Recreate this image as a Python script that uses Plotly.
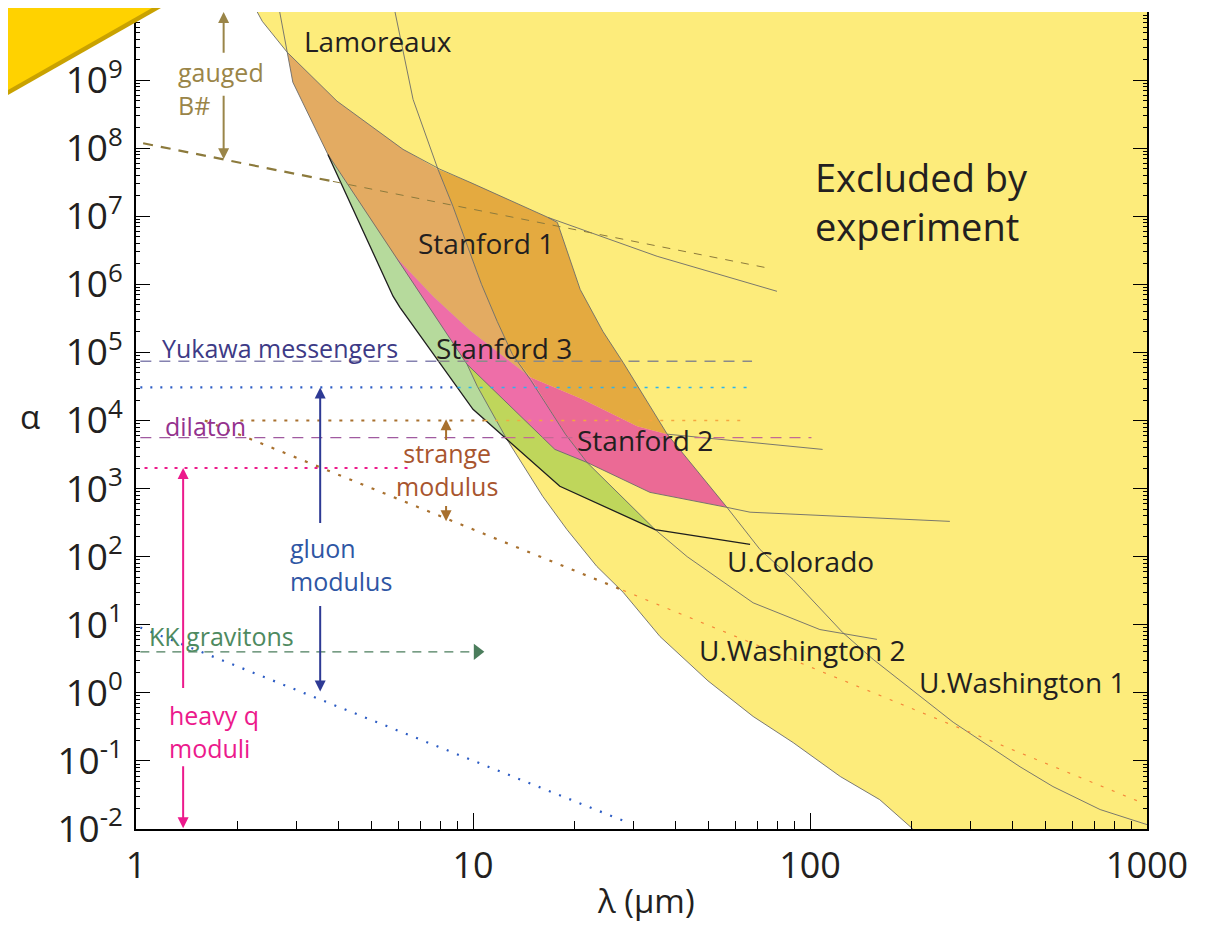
import numpy as np
import plotly.graph_objects as go

# ---- experimental regions (lambda in um, alpha) ----
excl_lam = [2.29, 1000, 1000, 202, 161, 123, 89.1, 67.8, 49.8, 35.9, 27.9, 23.3, 19.0, 16.1,
            12.6, 10.3, 9.6, 6.96, 4.62, 3.28, 2.81, 2.37]
excl_alpha = [1e10, 1e10, 0.01, 0.01, 0.027, 0.059, 0.186, 0.45, 1.5, 6.7, 30, 72, 250, 770,
              5.3e3, 3.17e4, 6.7e4, 6.0e5, 1.77e7, 3.7e8, 2.56e9, 7.3e9]

green_lam = [3.71, 5.79, 6.07, 7.20, 8.66, 10.0, 12.6, 18.1, 34.7, 27.3, 21.8, 18.8, 16.7,
             14.8, 13.1, 11.8, 10.6, 9.66, 8.72, 7.87]
green_alpha = [8.1e7, 6.7e5, 4.6e5, 1.40e5, 4.0e4, 1.46e4, 5.3e3, 1.08e3, 250, 820, 2.42e3,
               6.3e3, 1.61e4, 4.0e4, 9.3e4, 2.85e5, 1.0e6, 3.49e6, 1.40e7, 4.9e7]

ygreen_lam = [9.6, 13.8, 17.5, 21.8, 27.3, 34.7, 18.1, 12.6, 10.3]
ygreen_alpha = [6.7e4, 2.67e4, 3.76e3, 2.42e3, 820, 250, 1.08e3, 5.3e3, 3.17e4]

lorange_lam = [2.81, 3.95, 6.20, 7.87, 8.72, 9.66, 10.6, 11.8, 13.1, 14.8, 9.8, 7.61, 5.87, 3.71, 2.92]
lorange_alpha = [2.56e9, 4.9e8, 9.6e7, 4.9e7, 1.40e7, 3.49e6, 1.0e6, 2.85e5, 9.3e4, 4.3e4,
                 2.1e5, 6.7e5, 2.58e6, 8.1e7, 9.3e8]

dorange_lam = [7.87, 9.8, 16.7, 17.8, 20.8, 24.3, 27.9, 37.7, 30.7, 21.2, 14.8, 13.1, 11.8,
               10.6, 9.66, 8.72]
dorange_alpha = [4.9e7, 3.15e7, 9.6e6, 8.1e6, 8.4e5, 2.03e5, 7.1e4, 6.3e3, 8.2e3, 2.04e4,
                 4.3e4, 9.3e4, 2.85e5, 1.0e6, 3.49e6, 1.40e7]

lpink_lam = [5.87, 7.61, 9.8, 14.8, 16.7, 18.8, 21.8, 17.5, 9.6]
lpink_alpha = [2.58e6, 6.7e5, 2.1e5, 4.3e4, 1.61e4, 6.3e3, 2.42e3, 3.76e3, 6.7e4]

dpink_lam = [14.8, 21.2, 30.7, 37.7, 56.7, 33.5, 21.8, 18.8, 16.7]
dpink_alpha = [4.3e4, 2.04e4, 8.2e3, 6.3e3, 530, 880, 2.42e3, 6.3e3, 1.61e4]

# ---- experimental limit curves ----
lamo_lam = [2.29, 2.37, 2.81, 3.95, 6.20, 7.98, 9.8, 16.7, 35.2, 79.8]
lamo_alpha = [1e10, 7.3e9, 2.56e9, 4.9e8, 9.6e7, 4.9e7, 3.15e7, 9.6e6, 2.58e6, 7.9e5]

s3_lam = [2.67, 2.81, 2.92, 3.71, 5.87, 9.6, 10.3, 12.6, 16.1, 19.0, 23.3, 27.9, 35.9, 49.8,
          67.8, 89.1, 123, 161, 202]
s3_alpha = [1e10, 2.56e9, 9.3e8, 8.1e7, 2.58e6, 6.7e4, 3.17e4, 5.3e3, 770, 250, 72, 30, 6.7,
            1.5, 0.45, 0.186, 0.059, 0.027, 0.01]

uw2_lam = [5.87, 6.64, 7.87, 8.72, 9.66, 10.6, 11.8, 13.1, 14.8, 16.7, 18.8, 21.8, 27.3, 34.7,
           43.2, 67.8, 107, 158]
uw2_alpha = [1e10, 5.2e8, 4.9e7, 1.40e7, 3.49e6, 1.0e6, 2.85e5, 9.3e4, 4.0e4, 1.61e4, 6.3e3,
             2.42e3, 820, 250, 100, 21, 8.5, 6.1]

uw1_lam = [16.7, 17.8, 20.8, 24.3, 27.9, 37.7, 56.7, 71.1, 89.1, 125, 154, 212, 266, 420, 526,
           726, 908, 1000]
uw1_alpha = [9.6e6, 8.1e6, 8.4e5, 2.03e5, 7.1e4, 6.3e3, 530, 127, 46, 7.7, 3.1, 0.88, 0.37,
             0.082, 0.042, 0.0193, 0.0137, 0.0116]

s2_lam = [37.7, 109]
s2_alpha = [6.3e3, 3.76e3]

pinkb_lam = [9.6, 17.5, 21.8, 33.5, 56.7, 66.4, 260]
pinkb_alpha = [6.7e4, 3.76e3, 2.42e3, 880, 530, 450, 330]

col_lam = [3.71, 5.79, 6.07, 7.20, 8.66, 10.0, 12.6, 18.1, 34.7, 66.4]
col_alpha = [8.1e7, 6.7e5, 4.6e5, 1.40e5, 4.0e4, 1.46e4, 5.3e3, 1.08e3, 250, 151]

# ---- theoretical predictions ----
gauged_lam = [1.05, 3.84, 73.5]
gauged_alpha = [1.18e8, 3.25e7, 1.77e6]
yukawa_lam = [1.03, 7.9, 67.3]
yukawa_alpha = 7.4e4
gluon_lam = [1.03, 9.0, 66.4]
gluon_alpha = 3.06e4
gluon_diag_lam = [1.03, 28.4]
gluon_diag_alpha = [9.1, 0.0128]
dilaton_lam = [1.03, 12.4, 101]
dilaton_alpha = 5.6e3
strange_lam = [2.04, 10.8, 65.5]
strange_alpha = 1.0e4
strange_diag_lam = [1.6, 27.9, 953]
strange_diag_alpha = [1.0e4, 32, 0.025]
heavyq_lam = [1.06, 6.5]
heavyq_alpha = 2.0e3
kk_lam = [1.03, 9.8]
kk_head_lam = 10.3
kk_alpha = 4.0

# arrows: (lambda, tail alpha, head alpha, colour)
arrows = [
    (1.82, 2.39e9, 1e10, '#9a8548'),
    (1.82, 6.2e8, 6.9e7, '#9a8548'),
    (3.52, 297, 3.06e4, '#2e3a94'),
    (3.52, 19.8, 1.05, '#2e3a94'),
    (8.32, 4.9e3, 1.04e4, '#a8702e'),
    (8.32, 585, 330, '#a8702e'),
    (1.38, 1.12, 2.0e3, '#ec1a8c'),
    (1.38, 0.088, 0.0103, '#ec1a8c'),
]

FONT = 'Open Sans'
DARK = '#231f20'

fig = go.Figure()


def poly(lam, alpha, color):
    fig.add_trace(go.Scatter(x=lam + lam[:1], y=alpha + alpha[:1], mode='lines', fill='toself',
                             fillcolor=color, line=dict(width=0), hoverinfo='skip',
                             showlegend=False))


def curve(lam, alpha, color, width=0.9, dash='solid'):
    fig.add_trace(go.Scatter(x=lam, y=alpha, mode='lines', line=dict(color=color, width=width, dash=dash),
                             hoverinfo='skip', showlegend=False))


poly(excl_lam, excl_alpha, '#fdec7b')
poly(green_lam, green_alpha, '#b6da9c')
poly(ygreen_lam, ygreen_alpha, '#bfd65b')
poly(lorange_lam, lorange_alpha, '#e3ab62')
poly(dorange_lam, dorange_alpha, '#e4aa40')
poly(lpink_lam, lpink_alpha, '#ee6ea8')
poly(dpink_lam, dpink_alpha, '#eb6a95')

GRAY = '#6b6b6b'
curve(lamo_lam, lamo_alpha, GRAY)
curve(s3_lam, s3_alpha, GRAY)
curve(uw2_lam, uw2_alpha, GRAY)
curve(uw1_lam, uw1_alpha, GRAY)
curve(s2_lam, s2_alpha, GRAY)
curve(pinkb_lam, pinkb_alpha, GRAY)
curve(col_lam, col_alpha, '#1e1e1e', width=1.3)

# theory lines
curve(gauged_lam[:2], gauged_alpha[:2], '#8c7a3c', width=2.2, dash='10px,8px')
curve(gauged_lam[1:], gauged_alpha[1:], '#8c7a3c', width=1.0, dash='8px,8px')
curve(yukawa_lam[:2], [yukawa_alpha] * 2, '#8582b0', width=1.5, dash='11px,8px')
curve(yukawa_lam[1:], [yukawa_alpha] * 2, '#8a8a8a', width=1.5, dash='11px,8px')
curve(gluon_lam[:2], [gluon_alpha] * 2, '#2c5cc4', width=2.2, dash='2px,8px')
curve(gluon_lam[1:], [gluon_alpha] * 2, '#2ab4ee', width=1.4, dash='3px,8px')
curve(gluon_diag_lam, gluon_diag_alpha, '#2c5cc4', width=2.2, dash='2px,9px')
curve(dilaton_lam[:2], [dilaton_alpha] * 2, '#a05aa0', width=1.3, dash='11px,8px')
curve(dilaton_lam[1:], [dilaton_alpha] * 2, '#c46a94', width=1.3, dash='11px,8px')
curve(strange_lam[:2], [strange_alpha] * 2, '#a8702e', width=2.2, dash='3px,8px')
curve(strange_lam[1:], [strange_alpha] * 2, '#f5a640', width=1.4, dash='3px,8px')
curve(strange_diag_lam[:2], strange_diag_alpha[:2], '#a8702e', width=2.2, dash='3px,9px')
curve(strange_diag_lam[1:], strange_diag_alpha[1:], '#f5883a', width=1.2, dash='3px,9px')
curve(heavyq_lam, [heavyq_alpha] * 2, '#ec1a8c', width=2.0, dash='3px,7px')
curve(kk_lam, [kk_alpha] * 2, '#4b7d5c', width=1.3, dash='9px,7px')
fig.add_trace(go.Scatter(x=[kk_head_lam], y=[kk_alpha], mode='markers',
                         marker=dict(symbol='triangle-right', size=14, color='#4b7d5c'),
                         hoverinfo='skip', showlegend=False))

for lam, a_tail, a_head, c in arrows:
    fig.add_annotation(x=np.log10(lam), y=np.log10(a_head), ax=np.log10(lam), ay=np.log10(a_tail),
                       xref='x', yref='y', axref='x', ayref='y', text='', showarrow=True,
                       arrowhead=2, arrowsize=1.1, arrowwidth=2, arrowcolor=c)


def label(text, lam, alpha, size=28, color=DARK, xanchor='center', align='center'):
    fig.add_annotation(x=np.log10(lam), y=np.log10(alpha), text=text, showarrow=False,
                       xanchor=xanchor, yanchor='middle', align=align,
                       font=dict(family=FONT, size=size, color=color))


label('Lamoreaux', 5.23, 3.7e9)
label('Stanford 1', 10.9, 3.99e6)
label('Stanford 3', 12.4, 1.18e5)
label('Stanford 2', 32.4, 5.1e3)
label('U.Colorado', 93.4, 85)
label('U.Washington 2', 94.7, 4.3)
label('U.Washington 1', 426, 1.42)
label('Excluded by<br>experiment', 102, 1.66e7, size=38, xanchor='left', align='left')
label('gauged<br>B#', 1.31, 7.6e8, size=25, color='#9a8548', xanchor='left', align='left')
label('Yukawa messengers', 1.18, 1.18e5, size=25, color='#3d3a86', xanchor='left')
label('dilaton', 1.20, 8.2e3, size=25, color='#94328e', xanchor='left')
label('strange<br>modulus', 8.4, 1.91e3, size=25, color='#a8552e')
label('gluon<br>modulus', 2.83, 77, size=25, color='#2f56a4', xanchor='left', align='left')
label('KK gravitons', 1.08, 6.95, size=25, color='#4e8a60', xanchor='left')
label('heavy q<br>moduli', 1.24, 0.27, size=25, color='#ec1a8c', xanchor='left', align='left')

fig.add_annotation(x=-0.105, y=4.06, xref='paper', yref='y', text='α', showarrow=False,
                   xanchor='center', yanchor='middle',
                   font=dict(family=FONT, size=33, color=DARK))
fig.add_annotation(x=0.504, y=-0.1163, xref='paper', yref='paper', text='λ (μm)', showarrow=False,
                   xanchor='center', yanchor='bottom', borderpad=0,
                   font=dict(family=FONT, size=33, color=DARK))

# gold corner flag (page body has an 8px margin, figure starts at the corner of the body)
fig.add_shape(type='path', xref='paper', yref='paper', layer='above',
              path='M -0.1266 1.0049 L 0.0247 1.0049 L -0.1266 0.8984 Z',
              fillcolor='#c9a200', line=dict(width=0))
fig.add_shape(type='path', xref='paper', yref='paper', layer='above',
              path='M -0.1266 1.0049 L 0.0158 1.0049 L -0.1266 0.9045 Z',
              fillcolor='#ffd200', line=dict(width=0))

yvals = [10.0 ** k for k in range(-2, 11)]
ytext = ['10<sup>%d</sup>' % k for k in range(-2, 10)] + ['']

fig.update_layout(
    width=1215, height=917,
    margin=dict(l=128, r=76, t=4, b=96),
    plot_bgcolor='white', paper_bgcolor='white',
    font=dict(family=FONT, color=DARK),
    xaxis=dict(type='log', range=[0, 3], showgrid=False, zeroline=False, automargin=False,
               showline=True, linecolor='black', linewidth=1.5, mirror=False,
               ticks='inside', ticklen=16, tickwidth=1.3, tickcolor='black',
               tickvals=[1, 10, 100, 1000], ticktext=['1', '10', '100', '1000'],
               tickfont=dict(size=36, family=FONT, color=DARK), ticklabelstandoff=4,
               minor=dict(ticks='inside', ticklen=8, tickwidth=1, tickcolor='black',
                          dtick='D1', showgrid=False)),
    yaxis=dict(type='log', range=[-2, 10], showgrid=False, zeroline=False, automargin=False,
               showline=True, linecolor='black', linewidth=1.5, mirror='ticks',
               ticks='inside', ticklen=14, tickwidth=1.3, tickcolor='black',
               tickvals=yvals, ticktext=ytext,
               tickfont=dict(size=37, family=FONT, color=DARK), ticklabelstandoff=4,
               minor=dict(ticks='inside', ticklen=4, tickwidth=0.8, tickcolor='black',
                          dtick='D1', showgrid=False)),
)

fig.write_html('out.html')
